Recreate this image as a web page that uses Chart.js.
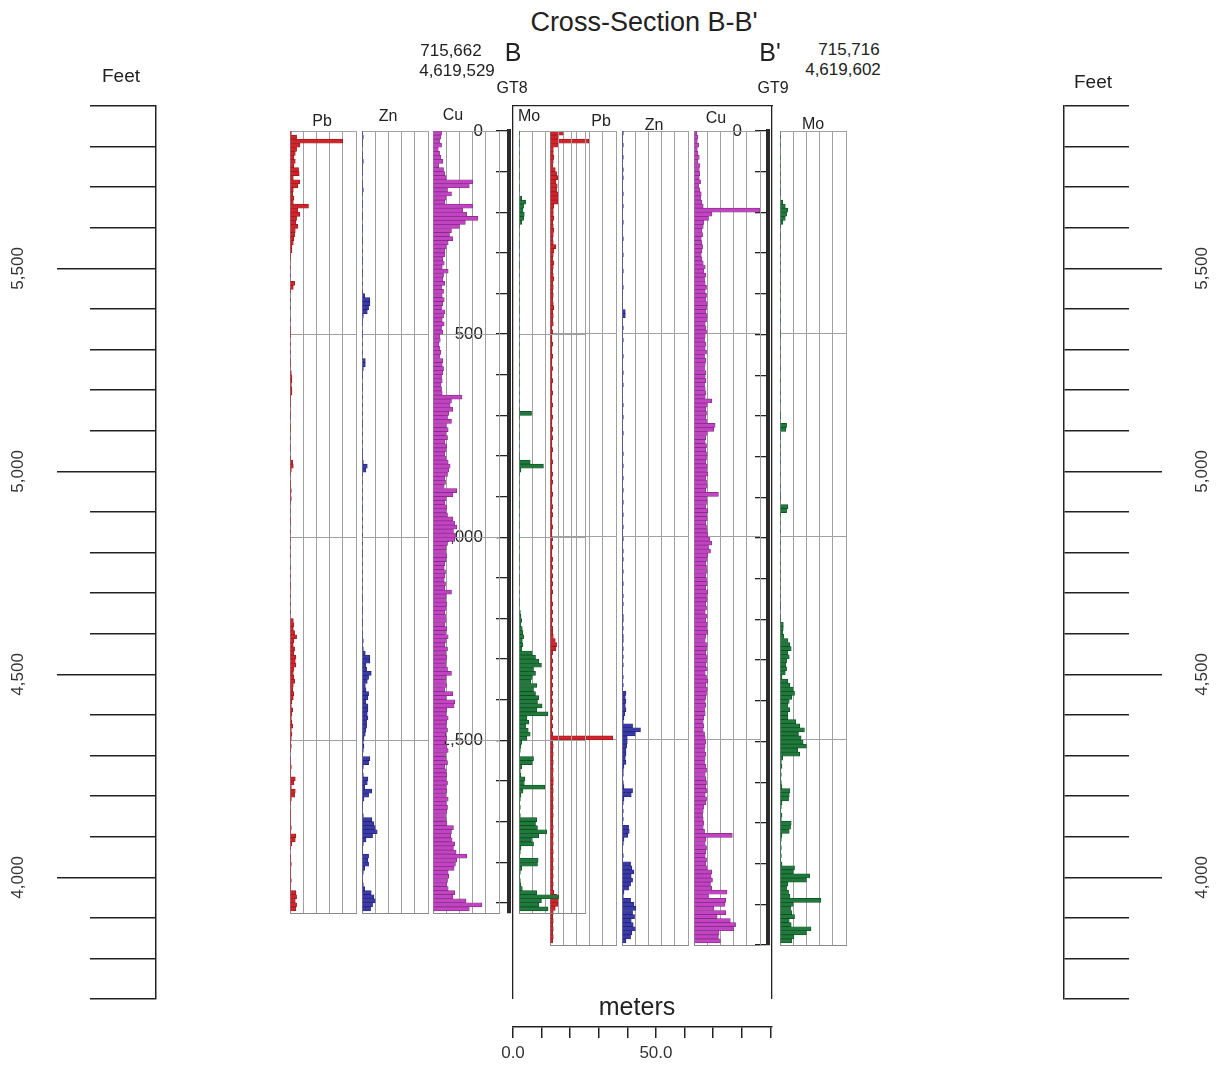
<!DOCTYPE html>
<html><head><meta charset="utf-8">
<script src="https://cdn.jsdelivr.net/npm/chart.js@4.4.1/dist/chart.umd.min.js"></script>
<style>
html,body{margin:0;padding:0;background:#fff;}
#stage{position:relative;width:1222px;height:1065px;overflow:hidden;font-family:Arial,"Liberation Sans",sans-serif;color:#222;background:#fff;}
#stage canvas{position:absolute;}
.t{position:absolute;transform:translate(-50%,-50%);white-space:nowrap;line-height:1;}
</style></head><body><div id="stage"></div>
<script>
// ---------------- DATA ----------------
const chartTitle = "Cross-Section B-B'";
const holeNames = ['GT8', 'GT9'];
const sectionEnds = ['B', "B'"];
const collarEasting = ['715,662', '715,716'];
const collarNorthing = ['4,619,529', '4,619,602'];
const elementNames = ['Pb', 'Zn', 'Cu', 'Mo'];
const elevationMin = 3700, elevationMax = 5900;          // feet
const elevationLabelTicks = [4000, 4500, 5000, 5500];
const depthLabelTicks = [0, 500, 1000, 1500, 2000];
const depthGridLines = [0, 500, 1000, 1500, 2000];
const meterLabelTicks = [0, 50];
const sectionLengthM = 90.6;
const sampleFt = 10;                                       // assay interval (ft)
const gt8EndDepth = 1925, gt9EndDepth = 2005;

// values = % of strip full scale, one per 10-ft interval from the collar
const gt8Pb = [
 2,10,80,15,10,8,6,8,6,13,  14,5,15,12,5,4,6,5,28,12,  15,10,9,12,8,7,6,5,3,3,
 1,1,0,1,0,1,0,7,5,1,  0,1,0,1,0,0,1,0,1,1,  1,0,1,0,1,0,1,1,0,2,
 3,3,2,3,3,1,1,1,0,1,  1,0,1,1,0,1,0,1,1,0,  1,4,5,2,1,0,1,1,2,1,
 2,1,0,1,0,1,1,0,1,0,  1,0,1,0,1,0,0,1,0,1,  0,1,1,0,1,0,1,0,1,0,
 5,6,5,7,10,6,5,7,6,9,  8,9,6,5,6,7,5,4,6,5,  3,2,4,3,2,3,4,2,3,2,
 1,2,1,0,1,1,2,1,1,8,  6,2,8,7,2,1,0,1,1,1,  1,2,1,9,8,3,1,0,1,1,
 2,1,1,1,2,1,1,9,10,8,  10,9];
const gt8Zn = [
 1,2,1,1,0,1,1,2,1,1,  1,0,1,1,2,1,0,1,1,0,  1,1,0,1,1,0,1,1,0,1,
 0,1,1,0,1,1,0,1,0,1,  4,12,12,10,8,2,1,1,0,1,  1,0,1,0,1,0,5,5,2,1,
 1,0,1,1,0,1,0,1,0,1,  0,1,1,0,1,0,1,0,1,1,  1,2,8,6,1,0,1,0,1,0,
 1,0,1,1,0,1,0,1,0,1,  0,1,0,1,1,0,1,0,1,0,  1,0,1,0,1,1,0,1,1,0,
 1,1,0,1,1,2,1,2,5,12,  12,6,7,14,10,8,5,6,10,9,  6,9,9,8,9,7,7,6,5,3,
 2,3,2,1,12,10,2,1,2,9,  8,4,15,10,3,1,1,1,2,15,  18,20,23,16,6,2,1,1,10,9,
 10,4,2,1,1,2,4,14,18,20,  16,13];
const gt8Cu = [
 13,12,10,13,8,10,12,15,9,16,  18,20,60,55,22,28,20,18,60,45,  51,68,49,40,28,25,30,23,20,18,
 18,15,17,14,23,16,15,18,13,16,  14,17,15,13,18,16,14,17,13,15,  10,11,9,10,12,10,15,14,16,15,
 13,14,12,13,14,44,28,26,30,24,  22,28,20,23,19,22,18,21,20,18,  20,23,26,24,22,18,19,17,36,30,
 20,18,21,20,22,30,33,36,31,34,  33,22,20,19,21,20,18,17,19,18,  17,19,18,28,20,19,21,20,18,19,
 20,18,21,19,23,20,18,22,19,21,  20,19,22,28,20,19,21,18,30,20,  33,32,21,20,23,21,20,22,19,21,
 18,21,23,19,20,22,18,20,21,20,  22,20,21,19,23,20,22,21,19,20,  21,31,28,27,29,33,31,35,51,36,
 34,32,23,24,22,21,23,33,30,50,  74,55];
const gt8Mo = [
 1,0,1,1,0,1,0,1,1,0,  1,1,0,1,1,0,4,10,7,6,  8,7,4,1,0,1,0,1,1,0,
 1,0,1,1,0,1,0,1,0,1,  0,1,0,1,1,0,1,0,1,0,  1,0,1,0,1,1,0,1,0,1,
 0,1,1,0,1,0,1,0,1,19,  1,0,1,0,1,1,0,1,0,1,  1,17,37,3,1,0,1,0,1,1,
 0,1,1,0,1,0,1,1,0,1,  1,0,1,0,1,1,0,1,0,1,  1,1,0,1,0,1,1,0,2,3,
 4,3,5,6,7,5,6,4,20,25,  30,34,22,25,20,18,27,22,25,30,  28,35,27,44,12,15,10,14,17,12,
 4,3,2,1,22,20,4,2,3,9,  8,39,6,3,2,1,2,1,2,27,  25,28,42,30,19,22,3,2,1,29,
 28,4,2,1,2,3,5,27,60,34,  30,44];
const gt9Pb = [
 20,13,59,13,5,5,6,5,4,8,  10,12,9,11,10,12,13,12,6,5,  5,6,4,5,6,5,4,5,9,6,
 5,4,6,5,4,5,6,4,5,4,  5,4,5,6,4,5,4,5,3,4,  3,3,4,3,3,4,3,3,4,3,
 3,4,3,3,4,3,3,4,3,3,  4,3,3,4,3,4,3,3,4,3,  3,4,3,3,4,3,4,3,3,4,
 3,3,4,3,4,3,3,4,3,3,  4,3,4,3,3,4,3,4,3,4,  3,4,3,4,3,3,4,3,4,3,
 4,3,4,4,5,8,10,9,4,3,  4,3,4,3,4,3,4,3,4,3,  4,3,4,3,4,3,4,3,4,95,
 4,5,4,5,4,5,4,5,4,5,  5,4,5,4,5,4,5,4,5,4,  4,5,4,5,4,5,4,5,4,5,
 4,5,4,5,4,5,4,6,10,13,  12,8,5,4,5,4,5,4,5,4];
const gt9Zn = [
 2,1,1,2,1,1,2,1,1,2,  1,2,1,1,1,2,1,1,2,1,  1,1,2,1,1,1,2,1,1,1,
 2,1,1,1,2,1,1,1,2,1,  1,1,1,1,5,5,1,1,2,1,  1,2,1,1,1,2,1,1,1,2,
 1,1,2,1,1,1,1,2,1,1,  2,1,1,1,2,1,1,1,1,2,  1,1,2,1,1,2,1,1,2,1,
 1,2,1,1,2,1,1,2,1,1,  2,1,1,2,1,2,1,1,2,1,  1,2,1,1,2,1,2,1,1,2,
 2,1,2,1,2,2,1,2,1,2,  1,2,1,1,2,1,2,1,6,5,  6,5,6,4,3,2,16,28,20,8,
 8,7,6,6,5,6,3,2,2,1,  2,3,16,14,3,2,1,2,1,2,  1,10,11,9,3,2,1,1,2,1,
 13,15,18,14,16,13,10,3,2,13,  18,21,16,19,14,17,20,15,13,6];
const gt9Cu = [
 4,6,5,7,5,6,8,6,9,8,  9,8,10,7,9,11,10,12,14,100,  27,22,15,14,12,13,11,12,13,12,
 11,12,14,17,15,18,16,17,19,17,  19,18,20,19,18,20,19,17,18,19,  17,16,18,17,19,16,18,17,16,18,
 17,18,16,17,18,17,27,20,18,19,  18,19,32,30,20,18,17,19,18,20,  19,18,20,19,21,18,19,20,18,37,
 19,20,18,21,19,20,18,19,20,21,  24,27,22,25,21,20,18,19,20,18,  19,20,18,21,19,20,18,19,17,20,
 18,20,19,21,18,17,20,19,18,20,  19,18,20,17,19,21,18,20,19,18,  17,18,16,17,15,14,15,14,16,17,
 18,17,16,18,17,16,18,19,17,18,  19,18,20,17,19,18,15,14,13,14,  15,14,16,58,18,17,19,18,17,19,
 18,20,27,26,28,25,27,50,22,48,  47,30,48,35,55,63,60,38,37,40];
const gt9Mo = [
 0,1,0,1,0,0,1,0,1,0,  1,0,1,0,1,1,0,4,8,12,  10,8,4,1,0,1,1,0,1,0,
 1,0,1,0,1,0,0,1,0,1,  0,1,0,0,1,0,1,0,0,1,  1,0,0,1,0,1,0,0,1,0,
 0,1,0,0,1,0,1,0,0,1,  1,0,10,9,1,1,0,1,0,1,  0,1,0,0,1,0,0,1,0,1,
 1,0,12,10,1,0,1,0,1,0,  0,1,0,1,0,0,1,0,1,0,  1,0,1,0,1,0,1,1,0,1,
 1,5,5,4,6,12,15,17,12,14,  10,9,10,8,3,12,15,20,22,18,  14,12,15,12,12,24,30,37,28,32,
 35,40,27,30,4,2,3,1,2,1,  2,3,15,14,13,3,2,1,3,2,  17,16,14,3,2,1,2,1,2,1,
 3,22,20,45,40,12,10,13,15,62,  20,16,18,22,14,17,47,40,21,18];

// ---------------- LAYOUT / STYLE ----------------
const FONT = 'Arial, "Liberation Sans", sans-serif';
Chart.defaults.font.family = FONT;
Chart.defaults.color = '#222';
Chart.defaults.animation = false;
Chart.defaults.responsive = false;
Chart.defaults.events = [];
Chart.defaults.plugins.legend.display = false;
Chart.defaults.plugins.tooltip.enabled = false;

const PX_PER_FT = 203 / 500;
const TOP_Y = 131;            // collar (depth 0) pixel row
const STRIP_W = 66;
const stage = document.getElementById('stage');
const COLORS = {
  Pb: {fill: '#d2232a', edge: '#8e1b1f'},
  Zn: {fill: '#3a3aa8', edge: '#22226e'},
  Cu: {fill: '#c244c2', edge: '#7e2a80'},
  Mo: {fill: '#1f7a3c', edge: '#0f4a22'}
};
const GRID = '#a0a0a0';

function addCanvas(x, y, w, h) {
  const c = document.createElement('canvas');
  c.width = Math.round(w); c.height = Math.round(h);
  c.style.left = Math.round(x) + 'px'; c.style.top = Math.round(y) + 'px';
  c.style.width = Math.round(w) + 'px'; c.style.height = Math.round(h) + 'px';
  stage.appendChild(c);
  return c.getContext('2d');
}
function addText(str, x, y, size) {
  const d = document.createElement('div');
  d.className = 't';
  d.textContent = str;
  d.style.left = x + 'px'; d.style.top = y + 'px'; d.style.fontSize = size + 'px';
  stage.appendChild(d);
}

// Elevation scale (Feet) on either side
function makeElevation(side) {
  const left = side === 'left';
  const cx = left ? 0 : 1050, cw = left ? 170 : 172;
  const axisX = left ? 156 : 1064, innerX = left ? 90 : 1129;
  const ctx = addCanvas(cx, 0, cw, 1065);
  const topPad = 106, botPad = 1065 - (106 + (elevationMax - elevationMin) * PX_PER_FT);
  const major = {
    type: 'linear', position: left ? 'left' : 'right', min: elevationMin, max: elevationMax,
    afterFit: s => { s.width = left ? innerX - cx : cx + cw - innerX; },
    afterBuildTicks: s => { s.ticks = elevationLabelTicks.map(v => ({value: v})); },
    ticks: { autoSkip: false, minRotation: 90, maxRotation: 90, crossAlign: 'center',
             padding: left ? 17 : 19, font: {size: 17}, color: '#333',
             callback: v => Number(v).toLocaleString('en-US') },
    grid: { drawOnChartArea: false, drawTicks: true, tickLength: 33, color: '#222', lineWidth: 1.5 },
    border: { display: false }
  };
  const minor = {
    type: 'linear', position: left ? 'right' : 'left', min: elevationMin, max: elevationMax,
    afterFit: s => { s.width = 4; },
    ticks: { display: false, stepSize: 100, autoSkip: false },
    grid: { drawOnChartArea: true, drawTicks: false, color: '#222', lineWidth: 1.5 },
    border: { display: true, color: '#222', width: 1.5 }
  };
  new Chart(ctx, {
    type: 'scatter',
    data: { datasets: [{ data: [], yAxisID: 'y' }] },
    options: {
      layout: { padding: { left: left ? 0 : axisX - 4 - cx, right: left ? cx + cw - axisX - 4 : 0, top: topPad, bottom: botPad } },
      scales: { x: { display: false, min: 0, max: 1 }, y: major, y2: minor }
    }
  });
}

// Depth axis along a drill hole
function makeDepthAxis(holeX, endDepth) {
  const AW = 80, W = 100, PV = 25;
  const ctx = addCanvas(holeX - AW, TOP_Y - PV, W, endDepth * PX_PER_FT + 2 * PV);
  new Chart(ctx, {
    type: 'scatter',
    data: { datasets: [{ data: [] }] },
    options: {
      layout: { padding: { left: 0, right: W - AW - 6, top: PV, bottom: PV } },
      scales: {
        x: { display: false, min: 0, max: 1 },
        y: { type: 'linear', position: 'left', reverse: true, min: 0, max: endDepth,
             afterFit: s => { s.width = AW; },
             ticks: { stepSize: 100, includeBounds: false, autoSkip: false, padding: 13,
                      font: {size: 17}, color: '#222',
                      callback: v => depthLabelTicks.includes(v) ? Number(v).toLocaleString('en-US') : '' },
             grid: { drawOnChartArea: false, drawTicks: true, tickLength: 13, color: '#222', lineWidth: 1.3 },
             border: { display: true, color: '#2b2b2b', width: 4 } }
      }
    }
  });
}

// One assay strip log
function makeStrip(x, values, endDepth, el) {
  const PAD = 5, H = endDepth * PX_PER_FT;
  const ctx = addCanvas(x - PAD, TOP_Y - PAD, STRIP_W + 2 * PAD, H + 2 * PAD);
  const depths = values.map((_, i) => sampleFt / 2 + i * sampleFt);
  const col = COLORS[el];
  new Chart(ctx, {
    type: 'bar',
    data: { datasets: [{
      data: values.map((v, i) => ({x: v, y: depths[i]})),
      backgroundColor: col.fill, borderColor: col.edge, borderWidth: 0.7,
      barPercentage: 1, categoryPercentage: 1
    }] },
    options: {
      indexAxis: 'y',
      layout: { padding: PAD },
      scales: {
        x: { type: 'linear', min: 0, max: 100, offset: false,
             ticks: { display: false, stepSize: 20 },
             grid: { color: GRID, lineWidth: 1, drawTicks: false, offset: false },
             border: { display: true, color: '#888', width: 1 } },
        y: { type: 'linear', reverse: true, min: 0, max: endDepth, offset: false,
             afterBuildTicks: s => { s.ticks = depthGridLines.filter(d => d < endDepth - 10).concat([endDepth]).map(v => ({value: v})); },
             ticks: { display: false },
             grid: { color: GRID, lineWidth: 1, drawTicks: false, offset: false },
             border: { display: true, color: '#888', width: 1 } }
      }
    }
  });
}

// Section frame (B - B')
function makeFrame() {
  const ctx = addCanvas(503, 96, 279, 912);
  const b = { display: true, color: '#222', width: 1.3 };
  const g = { drawOnChartArea: false, drawTicks: false };
  new Chart(ctx, {
    type: 'scatter',
    data: { datasets: [{ data: [] }] },
    options: {
      layout: { padding: 10 },
      scales: {
        x: { display: false, min: 0, max: sectionLengthM },
        xt: { type: 'linear', axis: 'x', position: 'top', min: 0, max: sectionLengthM, ticks: {display: false}, grid: g, border: b },
        y: { type: 'linear', position: 'left', min: 0, max: 1, ticks: {display: false}, grid: g, border: b },
        yr: { type: 'linear', position: 'right', min: 0, max: 1, ticks: {display: false}, grid: g, border: b }
      }
    }
  });
}

// Horizontal scale in meters
function makeMeters() {
  const ctx = addCanvas(493, 1007, 299, 58);
  new Chart(ctx, {
    type: 'scatter',
    data: { datasets: [{ data: [] }] },
    options: {
      layout: { padding: { left: 20, right: 20, top: 10, bottom: 0 } },
      scales: {
        y: { display: false, min: 0, max: 1 },
        x: { type: 'linear', position: 'bottom', min: 0, max: sectionLengthM,
             afterFit: s => { s.height = 38; },
             ticks: { stepSize: 10, includeBounds: false, autoSkip: false, maxRotation: 0, padding: 5,
                      font: {size: 17}, color: '#333',
                      callback: v => meterLabelTicks.includes(v) ? Number(v).toFixed(1) : '' },
             grid: { drawOnChartArea: false, drawTicks: true, tickLength: 11, color: '#222', lineWidth: 1.5 },
             border: { display: true, color: '#222', width: 1.5 } }
      }
    }
  });
}

// ---------------- BUILD ----------------
makeElevation('left');
makeElevation('right');
makeFrame();
makeDepthAxis(509, gt8EndDepth);
makeDepthAxis(768, gt9EndDepth);

const gt8X = [290, 362, 433, 519];
const gt9X = [550, 622, 694, 780];
const gt8Data = [gt8Pb, gt8Zn, gt8Cu, gt8Mo];
const gt9Data = [gt9Pb, gt9Zn, gt9Cu, gt9Mo];
// GT9 Pb is drawn first so GT8 Mo overlaps it as in the original
makeStrip(gt9X[0], gt9Data[0], gt9EndDepth, 'Pb');
elementNames.forEach((el, i) => makeStrip(gt8X[i], gt8Data[i], gt8EndDepth, el));
elementNames.forEach((el, i) => { if (i > 0) makeStrip(gt9X[i], gt9Data[i], gt9EndDepth, el); });
makeMeters();

// ---------------- TEXT ----------------
addText(chartTitle, 644, 22, 27);
addText(sectionEnds[0], 513, 52, 25);
addText(sectionEnds[1], 770, 52, 25);
addText(collarEasting[0], 451, 50, 17);
addText(collarNorthing[0], 457, 70, 17);
addText(collarEasting[1], 849, 49, 17);
addText(collarNorthing[1], 843, 69, 17);
addText(holeNames[0], 512, 88, 16);
addText(holeNames[1], 773, 88, 16);
const gt8LabelPos = [[322, 121], [388, 116], [453, 115], [529, 116]];
const gt9LabelPos = [[601, 121], [654, 125], [716, 118], [813, 124]];
elementNames.forEach((el, i) => {
  addText(el, gt8LabelPos[i][0], gt8LabelPos[i][1], 16);
  addText(el, gt9LabelPos[i][0], gt9LabelPos[i][1], 16);
});
addText('Feet', 121, 75, 19);
addText('Feet', 1093, 81, 19);
addText('meters', 637, 1006, 25);
</script>
</body></html>
